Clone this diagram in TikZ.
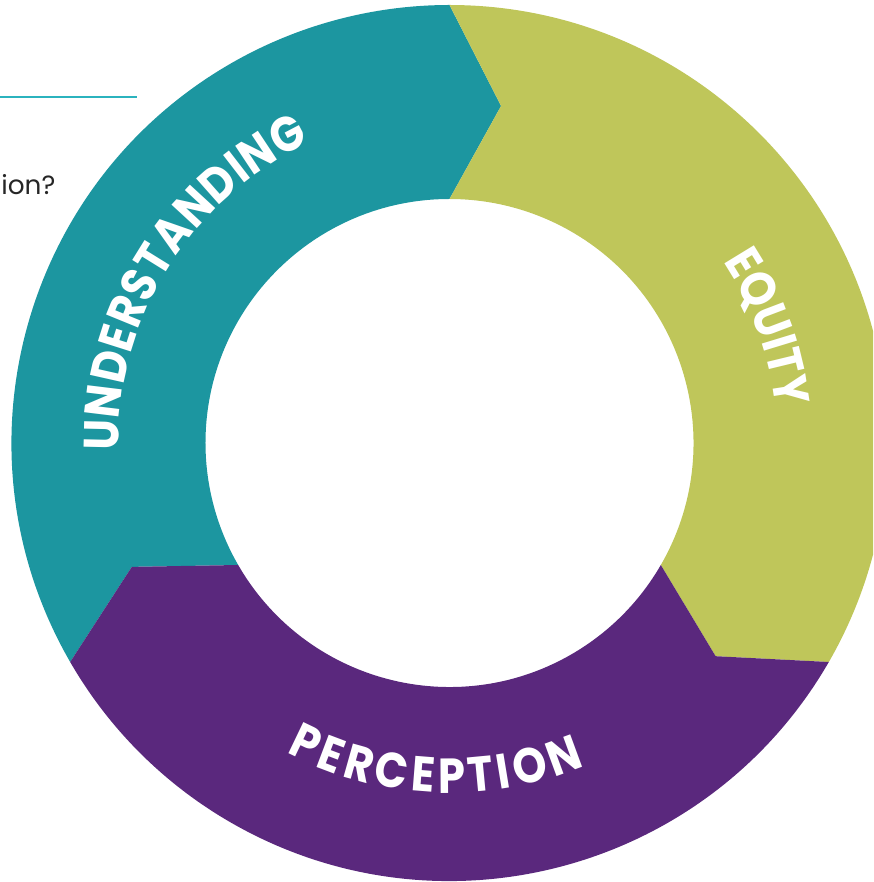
\documentclass[tikz,border=0pt]{standalone}
\usepackage{fontspec}
\setmainfont{Poppins}
\newfontfamily\ringfamily{Poppins}[FakeStretch=0.88]
\usepackage{tikz}
\usetikzlibrary{decorations.text}
\usepackage{xcolor}

\definecolor{ringteal}{HTML}{1C96A0}
\definecolor{ringgreen}{HTML}{BFC65A}
\definecolor{ringpurple}{HTML}{5A287D}
\definecolor{ruleteal}{HTML}{2BB3BE}
\newcommand{\ringfont}{\ringfamily\fontsize{28}{32}\selectfont\bfseries}

\begin{document}
\begin{tikzpicture}[x=0.02cm, y=0.02cm,
    ringtext/.style={decorate, decoration={text along path, text align={fit to path}, text color=white, text={|\ringfont|#1}}}]
    % Rahmen und Ausschnitt
    \useasboundingbox (-449.5,-439) rectangle (423.5,443);
    \clip (-449.5,-439) rectangle (423.5,443);

    % Linie und Text oben links
    \draw[ruleteal, line width=1.2pt] (-449.5,346.3) -- (-312.8,346.3);
    \node[anchor=base west, inner sep=0pt, text=black!85, font=\fontsize{15}{18}\selectfont] (frage) at (-448.5,248) {ion?};

    % Ringsegmente (Pfeile im Uhrzeigersinn)
    \foreach \a/\col in {210/ringteal, 90/ringgreen, -30/ringpurple}
        \fill[\col] (\a:438) arc[start angle=\a, end angle=\a-120, radius=438]
            -- (\a-128.7:341) -- (\a-120:244)
            arc[start angle=\a-120, end angle=\a, radius=244]
            -- (\a-8.7:341) -- cycle;

    % Beschriftungen
    \path[ringtext=UNDERSTANDING] (181.3:331) arc[start angle=181.3, end angle=114.9, radius=331];
    \path[ringtext=EQUITY] (33.5:328) arc[start angle=33.5, end angle=6.3, radius=328];
    \path[ringtext=PERCEPTION] (242.2:350) arc[start angle=242.2, end angle=292.8, radius=350];
\end{tikzpicture}
\end{document}
